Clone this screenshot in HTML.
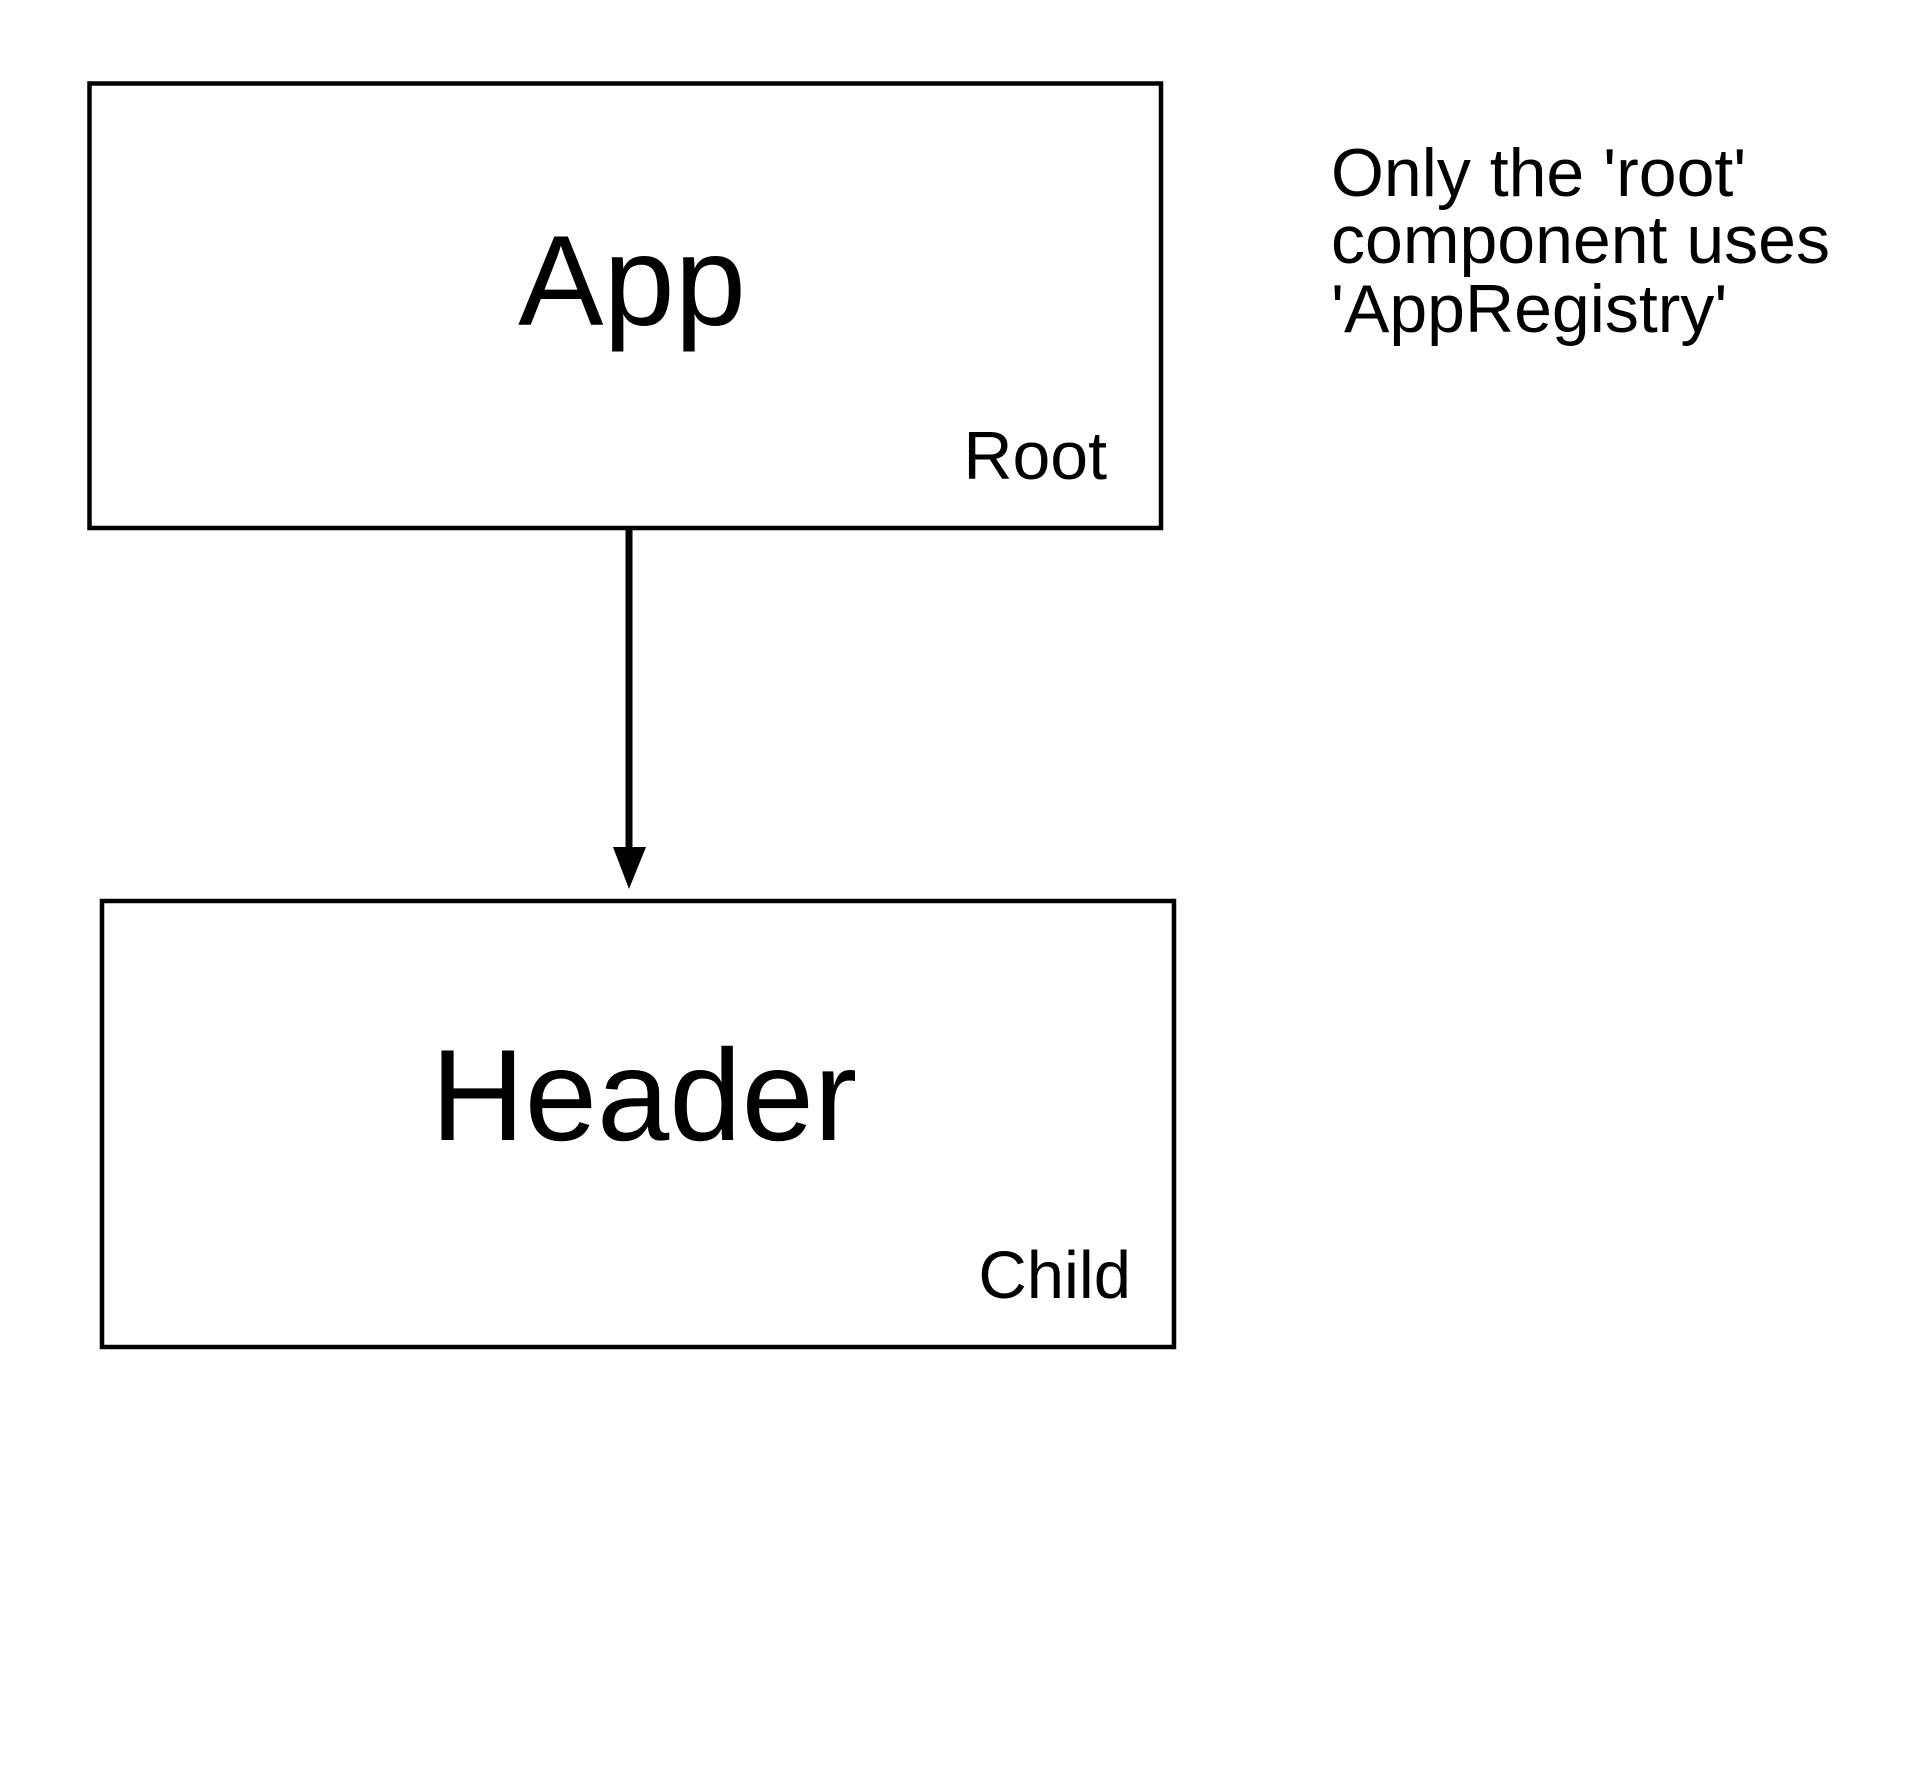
<!DOCTYPE html>
<html><head><meta charset="utf-8"><style>
html,body{margin:0;padding:0;background:#fff;}
</style></head><body>
<svg width="1920" height="1792" xmlns="http://www.w3.org/2000/svg" style="display:block">
<rect x="0" y="0" width="1920" height="1792" fill="#fff"/>
<rect x="89.5" y="83.5" width="1071.5" height="444.5" fill="none" stroke="#000" stroke-width="4.5"/>
<rect x="102" y="901" width="1072" height="446" fill="none" stroke="#000" stroke-width="4.5"/>
<line x1="629" y1="528" x2="629" y2="860" stroke="#000" stroke-width="7"/>
<polygon points="613,847 646,847 629,889" fill="#000"/>
<g font-family="Liberation Sans, Arial, sans-serif" fill="#000">
<text x="632" y="325" font-size="128" text-anchor="middle">App</text>
<text x="1107" y="479" font-size="68" text-anchor="end">Root</text>
<text x="644" y="1140" font-size="130" text-anchor="middle">Header</text>
<text x="1131" y="1298" font-size="67" text-anchor="end">Child</text>
<text x="1331" y="196" font-size="68">Only the 'root'</text>
<text x="1331" y="263" font-size="68">component uses</text>
<text x="1331" y="332" font-size="68">'AppRegistry'</text>
</g>
</svg>
</body></html>
